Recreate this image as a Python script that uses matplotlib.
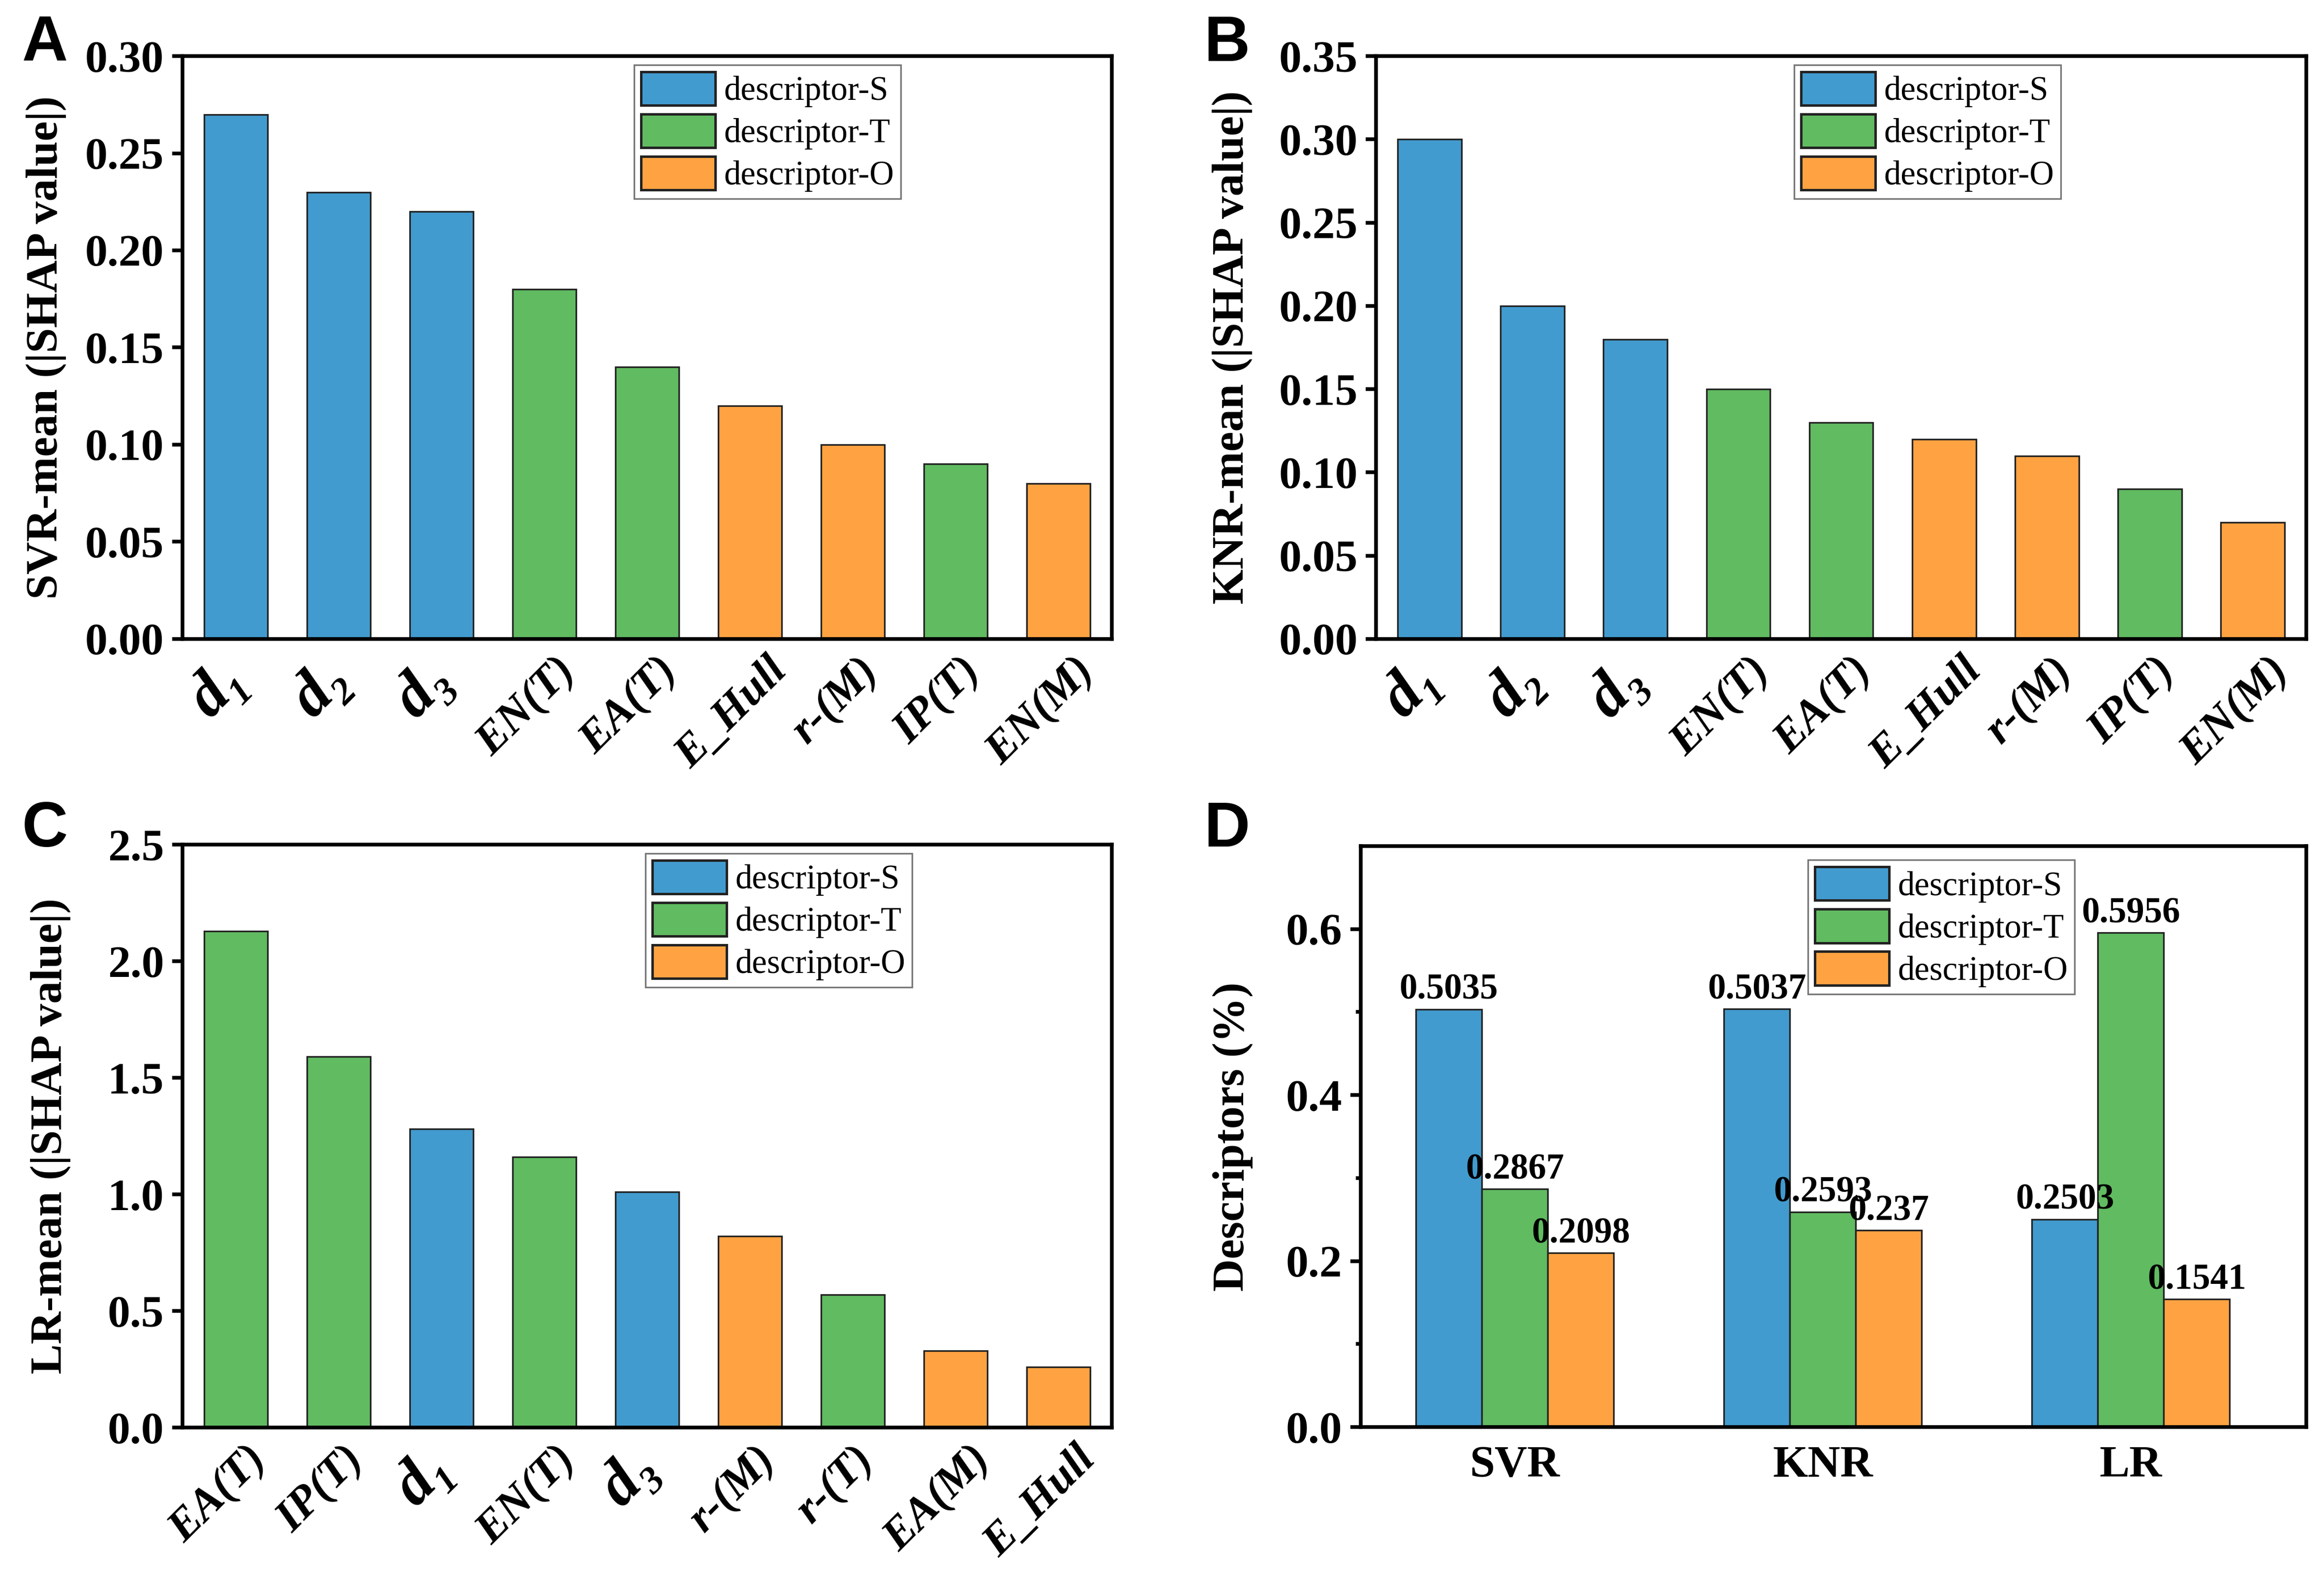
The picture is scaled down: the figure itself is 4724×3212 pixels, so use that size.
import matplotlib
matplotlib.use("Agg")
import matplotlib.pyplot as plt
import matplotlib.transforms as mtransforms
import numpy as np

plt.rcParams['font.family'] = ['Liberation Serif', 'DejaVu Serif']

# colours per descriptor group
colors = {'S': '#429bcf', 'T': '#61bb61', 'O': '#ffa342'}
group_names = ['descriptor-S', 'descriptor-T', 'descriptor-O']

# panel A: SVR
svr_labels = ['d₁', 'd₂', 'd₃', 'EN(T)', 'EA(T)', 'E_Hull', 'r-(M)', 'IP(T)', 'EN(M)']
svr_values = [0.27, 0.23, 0.22, 0.18, 0.14, 0.12, 0.10, 0.09, 0.08]
svr_groups = ['S', 'S', 'S', 'T', 'T', 'O', 'O', 'T', 'O']

# panel B: KNR
knr_labels = ['d₁', 'd₂', 'd₃', 'EN(T)', 'EA(T)', 'E_Hull', 'r-(M)', 'IP(T)', 'EN(M)']
knr_values = [0.30, 0.20, 0.18, 0.15, 0.13, 0.12, 0.11, 0.09, 0.07]
knr_groups = ['S', 'S', 'S', 'T', 'T', 'O', 'O', 'T', 'O']

# panel C: LR
lr_labels = ['EA(T)', 'IP(T)', 'd₁', 'EN(T)', 'd₃', 'r-(M)', 'r-(T)', 'EA(M)', 'E_Hull']
lr_values = [2.13, 1.59, 1.28, 1.16, 1.01, 0.82, 0.57, 0.33, 0.26]
lr_groups = ['T', 'T', 'S', 'T', 'S', 'O', 'T', 'O', 'O']

# panel D: descriptor share per model
models = ['SVR', 'KNR', 'LR']
share_S = [0.5035, 0.5037, 0.2503]
share_T = [0.2867, 0.2593, 0.5956]
share_O = [0.2098, 0.237, 0.1541]
share_text_S = ['0.5035', '0.5037', '0.2503']
share_text_T = ['0.2867', '0.2593', '0.5956']
share_text_O = ['0.2098', '0.237', '0.1541']

fig = plt.figure(figsize=(4724 / 300, 3212 / 300), dpi=300)


def style_axes(ax):
    for s in ax.spines.values():
        s.set_linewidth(1.8)
    ax.tick_params(axis='y', direction='out', length=5, width=1.8, labelsize=22, pad=4)
    ax.tick_params(axis='x', length=0, pad=4)


def add_legend(ax, xr, yt):
    handles = [plt.Rectangle((0, 0), 1, 1, facecolor=colors[k], edgecolor='#222222', linewidth=1.2)
               for k in ['S', 'T', 'O']]
    leg = ax.legend(handles, group_names, loc='upper right', bbox_to_anchor=(xr, yt),
                    fontsize=16.5, frameon=True, fancybox=False, edgecolor='#555555',
                    handlelength=2.2, handleheight=1.15, labelspacing=0.2,
                    handletextpad=0.25, borderpad=0.2, borderaxespad=0)
    leg.get_frame().set_linewidth(0.8)


def shap_panel(rect, labels, values, groups, ymax, ystep, ylabel, ylabel_x, leg_x):
    ax = fig.add_axes(rect)
    x = np.arange(len(values))
    ax.bar(x, values, width=0.62, color=[colors[g] for g in groups],
           edgecolor='#222222', linewidth=0.8)
    ax.set_xlim(-0.52, len(values) - 0.48)
    ax.set_ylim(0, ymax)
    ax.set_yticks(np.arange(0, ymax + ystep / 2, ystep))
    style_axes(ax)
    fmt = '%.2f' if ystep < 0.1 else '%.1f'
    ax.yaxis.set_major_formatter(matplotlib.ticker.FormatStrFormatter(fmt))
    for lab in ax.get_yticklabels():
        lab.set_fontweight('bold')
    ax.set_xticks(x)
    ax.set_xticklabels(labels)
    offset = mtransforms.ScaledTranslation(-0.12, -0.02, fig.dpi_scale_trans)
    for lab, txt in zip(ax.get_xticklabels(), labels):
        lab.set_rotation(45)
        lab.set_ha('center')
        lab.set_va('top')
        lab.set_fontweight('bold')
        lab.set_fontstyle('italic')
        lab.set_fontsize(31 if txt.startswith('d') else 22)
        lab.set_transform(lab.get_transform() + offset)
    ax.set_ylabel(ylabel, fontsize=22, fontweight='bold')
    ax.yaxis.set_label_coords(ylabel_x, 0.5)
    add_legend(ax, leg_x, 0.985)
    return ax


shap_panel([0.0785, 0.5956, 0.3999, 0.3689], svr_labels, svr_values, svr_groups,
           0.30, 0.05, 'SVR-mean (|SHAP value|)', -0.125, 0.773)
shap_panel([0.5921, 0.5956, 0.4003, 0.3689], knr_labels, knr_values, knr_groups,
           0.35, 0.05, 'KNR-mean (|SHAP value|)', -0.133, 0.736)
shap_panel([0.0785, 0.0965, 0.3999, 0.3689], lr_labels, lr_values, lr_groups,
           2.5, 0.5, 'LR-mean (|SHAP value|)', -0.12, 0.785)

# panel D
axd = fig.add_axes([0.5855, 0.0968, 0.4069, 0.3677])
xm = np.arange(len(models))
w = 0.214
for off, vals, texts, key in [(-w, share_S, share_text_S, 'S'),
                              (0, share_T, share_text_T, 'T'),
                              (w, share_O, share_text_O, 'O')]:
    bars = axd.bar(xm + off, vals, width=w, color=colors[key], edgecolor='#222222', linewidth=0.8)
    for b, t in zip(bars, texts):
        axd.text(b.get_x() + b.get_width() / 2, b.get_height() + 0.003, t,
                 ha='center', va='bottom', fontsize=17.5, fontweight='bold')
axd.set_xlim(-0.5, 2.57)
axd.set_ylim(0, 0.7)
axd.set_yticks([0, 0.2, 0.4, 0.6])
axd.set_yticks([0.1, 0.3, 0.5], minor=True)
axd.yaxis.set_major_formatter(matplotlib.ticker.FormatStrFormatter('%.1f'))
style_axes(axd)
axd.tick_params(axis='y', which='minor', direction='out', length=2.5, width=1.8)
axd.tick_params(axis='x', which='both', length=0, pad=9)
for lab in axd.get_yticklabels():
    lab.set_fontweight('bold')
axd.set_xticks(xm)
axd.set_xticklabels(models, fontsize=22, fontweight='bold')
axd.set_ylabel('Descriptors (%)', fontsize=22, fontweight='bold')
axd.yaxis.set_label_coords(-0.114, 0.5)
add_legend(axd, 0.755, 0.976)

# panel letters
for txt, px, py in [('A', 45, 29), ('B', 2447, 30), ('C', 45, 1627), ('D', 2447, 1627)]:
    fig.text(px / 4724, 1 - py / 3212, txt, fontsize=31, fontweight='bold',
             family=['Liberation Sans', 'DejaVu Sans'], ha='left', va='top')

fig.savefig('out.png', dpi=300)
